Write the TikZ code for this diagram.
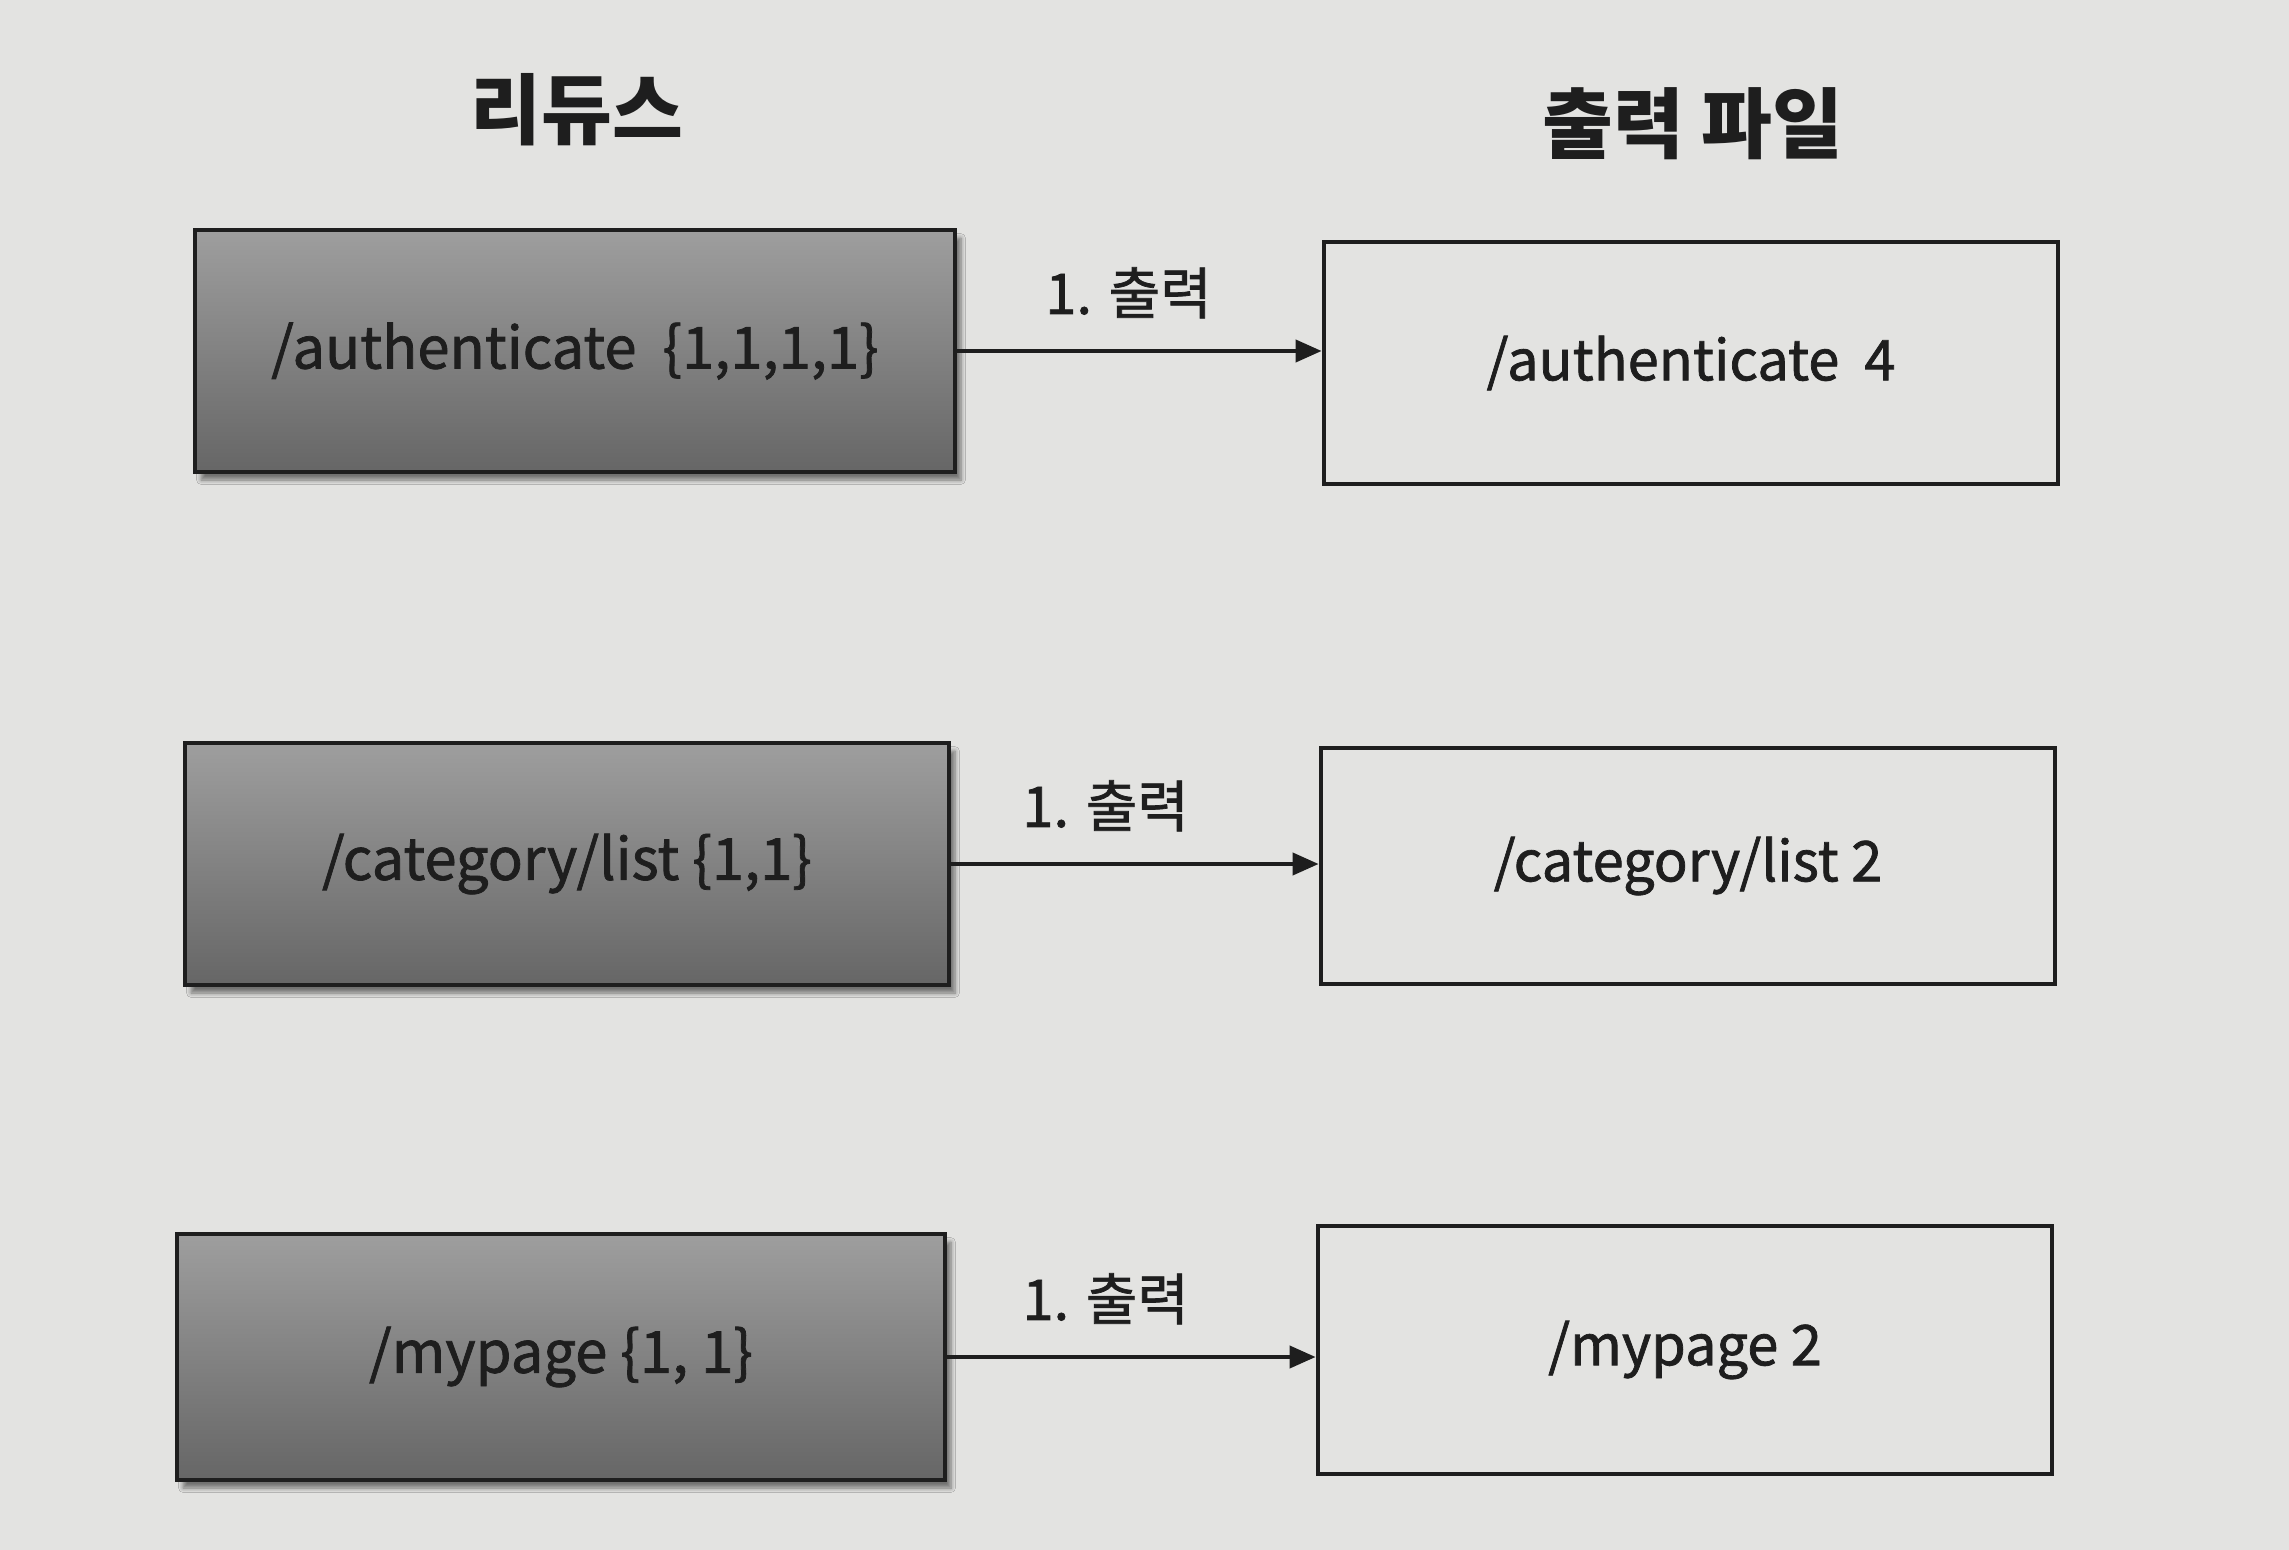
\documentclass[tikz,border=0pt]{standalone}
\usepackage{fontspec}
\setmainfont{Noto Sans CJK KR}
\newfontfamily\medfont{Noto Sans CJK KR}[FakeBold=1.3]
\usetikzlibrary{arrows.meta,shadows.blur}
\definecolor{paper}{HTML}{E3E3E1}
\definecolor{ink}{HTML}{1E1E1E}
\tikzset{
  reducebox/.style={draw=ink, line width=2.4pt, top color=black!38, bottom color=black!60,
    blur shadow={shadow xshift=3pt, shadow yshift=-4pt, shadow blur steps=6, shadow opacity=50},
    font=\medfont\fontsize{29}{32}\selectfont, text=ink},
  outbox/.style={draw=ink, line width=2.4pt, fill=paper, font=\medfont\fontsize{28}{31}\selectfont, text=ink},
  flow/.style={draw=ink, line width=2pt, -{Triangle[length=13pt,width=11pt]}},
  flowlbl/.style={font=\medfont\fontsize{28}{30}\selectfont, text=ink, above=12pt},
  title/.style={font=\bfseries\fontsize{38.5}{42}\selectfont, text=ink}
}
\begin{document}
\begin{tikzpicture}[x=0.5pt,y=-0.5pt]
\fill[paper] (0,0) rectangle (2289,1550);
\useasboundingbox (0,0) rectangle (2289,1550);
\node[title] (t1) at (577,110) {리듀스};
\node[title] (t2) at (1693,124) {출력 파일};
% row 1
\node[reducebox, minimum width=380pt, minimum height=121pt] (L1) at (575,351) {/authenticate\ \ \{1,1,1,1\}};
\node[outbox, minimum width=367pt, minimum height=121pt] (R1) at (1691,363) {/authenticate\ \ 4};
% row 2
\node[reducebox, minimum width=382pt, minimum height=121pt] (L2) at (567,864) {/category/list \{1,1\}};
\node[outbox, minimum width=367pt, minimum height=118pt] (R2) at (1688,866) {/category/list 2};
% row 3
\node[reducebox, minimum width=384pt, minimum height=123pt] (L3) at (561,1357) {/mypage \{1, 1\}};
\node[outbox, minimum width=367pt, minimum height=124pt] (R3) at (1685,1350) {/mypage 2};
% arrows
\draw[flow] (L1.east) -- node[flowlbl, pos=0.47] (a1) {1. 출력} (L1.east -| R1.west);
\draw[flow] (L2.east) -- node[flowlbl, pos=0.42] (a2) {1. 출력} (L2.east -| R2.west);
\draw[flow] (L3.east) -- node[flowlbl, pos=0.43] (a3) {1. 출력} (L3.east -| R3.west);
\end{tikzpicture}
\end{document}
